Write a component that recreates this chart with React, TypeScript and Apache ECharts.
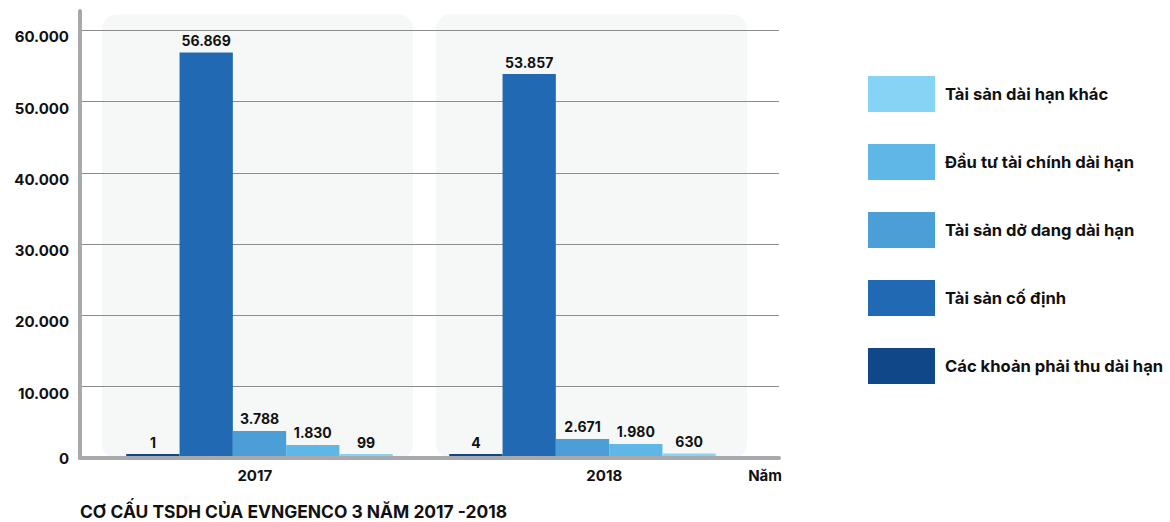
import React, { useEffect, useRef } from "react";
import * as echarts from "echarts";

const categories = ["2017", "2018"];
const seriesNames = [
  "Các khoản phải thu dài hạn",
  "Tài sản cố định",
  "Tài sản dở dang dài hạn",
  "Đầu tư tài chính dài hạn",
  "Tài sản dài hạn khác",
];
const receivables = [1, 4];
const fixedAssets = [56869, 53857];
const workInProgress = [3788, 2671];
const investments = [1830, 1980];
const otherAssets = [99, 630];
const seriesColors = ["#0f4788", "#216ab3", "#4c9fd6", "#5fb7e8", "#87d3f6"];
const legendOrder = [
  "Tài sản dài hạn khác",
  "Đầu tư tài chính dài hạn",
  "Tài sản dở dang dài hạn",
  "Tài sản cố định",
  "Các khoản phải thu dài hạn",
];
const panelValues = [62200, 62200];
const yMax = 62700;
const yInterval = 10000;
const titleText = "CƠ CẤU TSDH CỦA EVNGENCO 3 NĂM 2017 -2018";
const xAxisName = "Năm";

const fmt = (v: number) =>
  String(v).replace(/\B(?=(\d{3})+(?!\d))/g, ".");

const FONT = "Inter";

export default function App() {
  const ref = useRef<HTMLDivElement>(null);
  useEffect(() => {
    document.body.style.margin = "0";
    if (!ref.current) return;
    const chart = echarts.init(ref.current, undefined, { renderer: "svg" });
    const dataSets = [receivables, fixedAssets, workInProgress, investments, otherAssets];
    const dataSeries = dataSets.map((d, i) => ({
      name: seriesNames[i],
      type: "bar",
      xAxisIndex: 1,
      yAxisIndex: 1,
      data: d,
      barWidth: 53.3,
      barGap: "0%",
      barMinHeight: 4,
      z: 2,
      itemStyle: { color: seriesColors[i] },
      label: {
        show: true,
        position: "top",
        distance: 5,
        formatter: (p: any) => fmt(p.value),
        fontFamily: FONT,
        fontWeight: "bold",
        fontSize: 14,
        color: "#111",
      },
    }));
    const hiddenY = (gridIndex: number) => ({
      type: "value",
      gridIndex,
      min: 0,
      max: yMax,
      interval: yInterval,
      show: false,
      splitLine: { show: false },
    });
    chart.setOption({
      animation: false,
      backgroundColor: "#ffffff",
      textStyle: { fontFamily: FONT },
      title: {
        text: titleText,
        left: 80,
        top: 503,
        padding: 0,
        textStyle: { fontFamily: FONT, fontWeight: "bold", fontSize: 17.4, color: "#111" },
      },
      legend: {
        orient: "vertical",
        left: 868,
        top: 76,
        padding: 0,
        itemWidth: 67,
        itemHeight: 36,
        itemGap: 32,
        icon: "rect",
        selectedMode: false,
        data: legendOrder,
        textStyle: {
          fontFamily: FONT,
          fontWeight: "bold",
          fontSize: 16.6,
          color: "#111",
          padding: [0, 0, 0, 5],
        },
      },
      grid: [
        { left: 80, right: 391, top: 11, bottom: 64 },
        { left: 98, right: 426, top: 11, bottom: 64 },
        { left: 90.5, right: 411.5, top: 11, bottom: 64 },
      ],
      xAxis: [
        {
          type: "category",
          gridIndex: 0,
          data: categories,
          z: 3,
          name: xAxisName,
          nameLocation: "end",
          nameGap: 0,
          nameTextStyle: {
            fontFamily: FONT,
            fontWeight: "bold",
            fontSize: 15,
            color: "#111",
            align: "right",
            verticalAlign: "top",
            padding: [10, -3, 0, 0],
          },
          axisLine: { show: true, lineStyle: { color: "#a7a9ac", width: 4 } },
          axisTick: { show: false },
          axisLabel: {
            margin: 10,
            fontFamily: FONT,
            fontWeight: "bold",
            fontSize: 15,
            color: "#111",
          },
        },
        { type: "category", gridIndex: 1, data: categories, show: false },
        { type: "category", gridIndex: 2, data: categories, show: false },
      ],
      yAxis: [
        {
          type: "value",
          gridIndex: 0,
          min: 0,
          max: yMax,
          interval: yInterval,
          z: 1.5,
          axisLine: { show: true, lineStyle: { color: "#a7a9ac", width: 4 } },
          axisTick: { show: false },
          axisLabel: {
            margin: 11,
            showMaxLabel: false,
            formatter: (v: number) =>
              v % yInterval !== 0 ? "" : v === 0 ? fmt(v) : "{s|" + fmt(v) + "}",
            rich: {
              s: {
                padding: [13, 0, 0, 0],
                fontFamily: FONT,
                fontWeight: "bold",
                fontSize: 15,
                color: "#111",
              },
            },
            fontFamily: FONT,
            fontWeight: "bold",
            fontSize: 15,
            color: "#111",
          },
          splitLine: {
            show: true,
            showMinLine: false,
            showMaxLine: false,
            lineStyle: { color: "#8c8c8c", width: 1.2 },
          },
        },
        hiddenY(1),
        hiddenY(2),
      ],
      series: [
        {
          name: "panel",
          type: "bar",
          xAxisIndex: 2,
          yAxisIndex: 2,
          data: panelValues,
          barWidth: 311,
          silent: true,
          z: 1,
          itemStyle: { color: "#f6f8f8", borderRadius: 14 },
          label: { show: false },
        },
        ...dataSeries,
      ],
    });
    return () => chart.dispose();
  }, []);
  return <div ref={ref} style={{ width: 1170, height: 522 }} />;
}
